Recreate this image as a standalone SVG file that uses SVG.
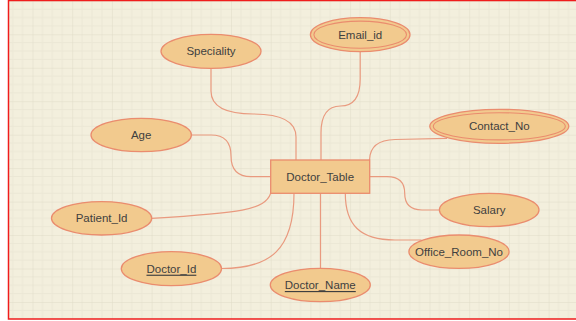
<svg xmlns="http://www.w3.org/2000/svg" width="576" height="321" viewBox="0 0 576 321">
<style>
.ent{fill:#f2ca8e;stroke:#ea8c6e;stroke-width:1.3}
.att{fill:#f2ca8e;stroke:#ea8c6e;stroke-width:1.3}
.inner{fill:#f2ca8e;stroke:#ea8c6e;stroke-width:1.1}
.lbl{font-family:"Liberation Sans",Arial,sans-serif;font-size:11.5px;fill:#3f3f3f;text-anchor:middle;dominant-baseline:central}
.key{text-decoration:underline}
.edge{fill:none;stroke:#e99a7f;stroke-width:1.2}
</style>
<defs>
<pattern id="grid" patternUnits="userSpaceOnUse" x="32.5" y="34.3" width="39.7" height="33.46">
<rect width="39.7" height="33.46" fill="#f3efdd"/>
<g stroke="#ebe7d5" stroke-width="1">
<line x1="9.925" y1="0" x2="9.925" y2="33.46"/>
<line x1="19.85" y1="0" x2="19.85" y2="33.46"/>
<line x1="29.775" y1="0" x2="29.775" y2="33.46"/>
<line x1="0" y1="8.365" x2="39.7" y2="8.365"/>
<line x1="0" y1="16.73" x2="39.7" y2="16.73"/>
<line x1="0" y1="25.095" x2="39.7" y2="25.095"/>
</g>
<g stroke="#e0dbc7" stroke-width="1">
<line x1="0" y1="0" x2="0" y2="33.46"/>
<line x1="0" y1="0" x2="39.7" y2="0"/>
</g>
</pattern>
</defs>
<rect width="576" height="321" fill="#ffffff"/>
<rect x="8.5" y="0.5" width="600" height="318.5" fill="url(#grid)" stroke="#f01c1c" stroke-width="1.5"/>

<g id="connectors">
<path class="edge" d="M211,68.3 L211,91 Q211,114 253.5,114 Q296,114 296,137 L296,160"/>
<path class="edge" d="M360.2,51.7 L360.2,79 Q360.2,106 340.5,106 Q321,106 321,133 L321,160"/>
<path class="edge" d="M191.4,135 L211,135 Q231,135 231,155.8 Q231,176.7 251,176.7 L270.7,176.7"/>
<path class="edge" d="M369.5,160 Q370,140 395,139.5 L447,138.3"/>
<path class="edge" d="M370,176.7 L387,176.7 Q404.7,176.7 404.7,193.3 Q404.7,210 422,210 L439.4,210"/>
<path class="edge" d="M345.3,193.3 C345.3,225 360,240 395,240 L421.5,240"/>
<path class="edge" d="M320.5,193.3 L320.5,268.3"/>
<path class="edge" d="M294,193.3 C294,250 270,268.5 221.5,268.5"/>
<path class="edge" d="M270.7,193.3 C265,210 240,213 151.7,218.3"/>
</g>

<g id="doctor_table">
<rect class="ent" x="270.7" y="160" width="99" height="33.3"/>
<text class="lbl" x="320.2" y="176.7">Doctor_Table</text>
</g>
<g id="speciality">
<ellipse class="att" cx="211" cy="51.3" rx="50" ry="17"/>
<text class="lbl" x="211" y="51.3">Speciality</text>
</g>
<g id="email_id">
<ellipse class="att" cx="360.2" cy="34.7" rx="49.8" ry="17"/>
<ellipse class="inner" cx="360.2" cy="34.7" rx="46.3" ry="13.6"/>
<text class="lbl" x="360.2" y="34.7">Email_id</text>
</g>
<g id="age">
<ellipse class="att" cx="141.2" cy="135" rx="50.2" ry="16.7"/>
<text class="lbl" x="141.2" y="135">Age</text>
</g>
<g id="contact_no">
<ellipse class="att" cx="499.3" cy="126.3" rx="69.5" ry="17"/>
<ellipse class="inner" cx="499.3" cy="126.3" rx="66" ry="13.6"/>
<text class="lbl" x="499.3" y="126.3">Contact_No</text>
</g>
<g id="salary">
<ellipse class="att" cx="489.2" cy="210" rx="49.8" ry="16.7"/>
<text class="lbl" x="489.2" y="210">Salary</text>
</g>
<g id="patient_id">
<ellipse class="att" cx="101.6" cy="218.3" rx="50.1" ry="16.7"/>
<text class="lbl" x="101.6" y="218.3">Patient_Id</text>
</g>
<g id="office_room_no">
<ellipse class="att" cx="459" cy="251.7" rx="50.1" ry="16.7"/>
<text class="lbl" x="459" y="251.7">Office_Room_No</text>
</g>
<g id="doctor_id">
<ellipse class="att" cx="171.4" cy="268.7" rx="50.1" ry="17"/>
<text class="lbl key" x="171.4" y="268.7">Doctor_Id</text>
</g>
<g id="doctor_name">
<ellipse class="att" cx="320.3" cy="285" rx="50" ry="16.7"/>
<text class="lbl key" x="320.3" y="285">Doctor_Name</text>
</g>
</svg>
